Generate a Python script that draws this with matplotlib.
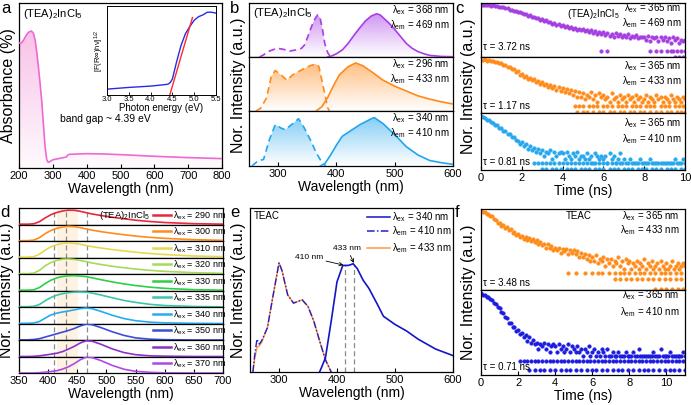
import numpy as np
import matplotlib
matplotlib.use("Agg")
import matplotlib.pyplot as plt
from matplotlib.patches import Polygon
from matplotlib.colors import to_rgb
from matplotlib.ticker import NullLocator

plt.rcParams['font.family'] = ['Liberation Sans', 'DejaVu Sans']
plt.rcParams['mathtext.fontset'] = 'custom'
plt.rcParams['mathtext.rm'] = 'Liberation Sans'
plt.rcParams['mathtext.it'] = 'Liberation Sans:italic'
plt.rcParams['axes.linewidth'] = 0.9

# ---------------- data ----------------
# a: absorbance + Tauc inset
abs_wl = [200, 205, 210, 215, 220, 225, 230, 237, 243, 248, 252, 257, 262, 267, 272, 277, 282, 286, 290, 300,
          320, 340, 345, 350, 400, 450, 500, 550, 600, 650, 700, 750, 800]
abs_val = [0.76, 0.755, 0.765, 0.78, 0.8, 0.815, 0.825, 0.83, 0.815, 0.77, 0.71, 0.62, 0.52, 0.41, 0.27, 0.13, 0.05,
           0.035, 0.037, 0.05, 0.058, 0.067, 0.08, 0.083, 0.087, 0.085, 0.081, 0.076, 0.071, 0.067, 0.063, 0.06, 0.057]
tauc_E = [3.0, 3.5, 4.0, 4.3, 4.4, 4.45, 4.5, 4.6, 4.7, 4.8, 4.9, 5.0, 5.1, 5.2, 5.3, 5.4, 5.5]
tauc_y = [0.066, 0.085, 0.1, 0.115, 0.122, 0.14, 0.18, 0.38, 0.56, 0.69, 0.77, 0.84, 0.88, 0.9, 0.93, 0.93, 0.92]
fit_E = [4.44, 4.96]
fit_y = [0.0, 0.87]

# b: PLE (dashed) / PL (solid) of (TEA)2InCl5
b_top_ple_wl = [268, 275, 280, 285, 290, 295, 300, 310, 320, 330, 340, 345, 350, 355, 360, 365, 368, 372, 376, 380, 385, 390]
b_top_ple = [0.0, 0.04, 0.08, 0.11, 0.13, 0.15, 0.16, 0.14, 0.11, 0.13, 0.16, 0.22, 0.35, 0.5, 0.64, 0.74, 0.78, 0.72,
             0.52, 0.25, 0.08, 0.0]
b_top_em_wl = [385, 390, 400, 410, 420, 430, 440, 450, 460, 469, 475, 480, 490, 500, 510, 520, 530, 540, 550, 560, 580, 600]
b_top_em = [0.0, 0.01, 0.06, 0.13, 0.25, 0.4, 0.54, 0.67, 0.76, 0.8, 0.78, 0.73, 0.63, 0.51, 0.38, 0.25, 0.16, 0.1,
            0.06, 0.03, 0.01, 0.005]
b_mid_ple_wl = [262, 270, 280, 288, 295, 305, 315, 325, 340, 355, 365, 370, 375, 380, 385, 388]
b_mid_ple = [0.0, 0.05, 0.24, 0.63, 0.75, 0.67, 0.57, 0.67, 0.76, 0.84, 0.87, 0.82, 0.57, 0.32, 0.06, 0.0]
b_mid_em_wl = [365, 375, 385, 395, 405, 420, 433, 445, 460, 480, 500, 520, 540, 560, 580, 600]
b_mid_em = [0.0, 0.08, 0.25, 0.47, 0.67, 0.82, 0.89, 0.84, 0.73, 0.57, 0.46, 0.37, 0.28, 0.22, 0.17, 0.13]
b_bot_ple_wl = [255, 265, 275, 285, 295, 305, 312, 325, 335, 345, 355, 365, 372, 378, 382]
b_bot_ple = [0.0, 0.09, 0.12, 0.48, 0.75, 0.69, 0.66, 0.77, 0.86, 0.69, 0.48, 0.25, 0.12, 0.03, 0.0]
b_bot_em_wl = [372, 380, 390, 400, 410, 420, 440, 460, 465, 480, 500, 520, 540, 560, 580, 600]
b_bot_em = [0.0, 0.04, 0.2, 0.38, 0.54, 0.61, 0.75, 0.86, 0.88, 0.77, 0.57, 0.35, 0.2, 0.1, 0.06, 0.03]
b_ex = [368, 296, 340]
b_em = [469, 433, 410]

# c: decay counts, (TEA)2InCl5, channels every 0.1 ns from 0 to 10 ns
c_purple = [395, 377, 388, 366, 381, 352, 364, 331, 338, 309,
            298, 291, 255, 252, 219, 214, 186, 189, 160, 163,
            150, 128, 131, 109, 112, 94, 98, 81, 84, 70,
            71, 61, 63, 52, 55, 44, 49, 39, 42, 33,
            37, 30, 33, 27, 30, 24, 28, 22, 25, 20,
            23, 18, 21, 16, 20, 15, 19, 14, 17, 13,
            16, 12, 15, 11, 14, 10, 15, 11, 13, 9,
            12, 9, 13, 8, 11, 10, 12, 8, 10, 9,
            10, 7, 11, 6, 9, 8, 10, 6, 9, 7,
            9, 6, 8, 5, 9, 7, 8, 5, 7, 6,
            7]
c_purple_2 = [5.9, 6.2, 8.3, 8.6, 8.8, 9.1, 9.3, 9.4, 9.6, 9.8, 10.0]
c_purple_1 = [9.5, 9.7, 9.9]
c_orange = [218, 206, 222, 197, 210, 183, 192, 171, 176, 158,
            156, 128, 127, 101, 102, 80, 82, 61, 65, 47,
            50, 39, 42, 31, 35, 26, 30, 22, 25, 18,
            22, 16, 19, 13, 17, 12, 15, 10, 13, 9,
            12, 8, 11, 7, 10, 6, 9, 5, 8, 5,
            7, 4, 6, 5, 8, 4, 6, 3, 7, 5,
            6, 4, 5, 3, 7, 4, 5, 3, 6, 4,
            5, 3, 6, 4, 5, 3, 6, 4, 5, 3,
            4, 6, 3, 5, 4, 3, 6, 4, 5, 3,
            5, 4, 3, 6, 4, 3, 5, 4, 3, 5,
            4]
c_orange_2 = [4.6, 4.8, 5.0, 5.3, 5.5, 5.7, 6.0, 6.2, 6.4, 6.7, 6.9, 7.1, 7.4, 7.6, 7.8, 8.1, 8.3, 8.5, 8.8,
              9.0, 9.2, 9.5, 9.7, 9.9]
c_orange_1 = [4.7, 5.0, 5.2, 5.5, 5.8, 6.0, 6.3, 6.5, 6.8, 7.0, 7.3, 7.5, 7.8, 8.0, 8.3, 8.6, 8.8, 9.1, 9.3,
              9.6, 9.8, 10.0]
c_blue = [218, 188, 176, 147, 140, 117, 109, 88, 82, 66,
          64, 49, 47, 34, 35, 25, 26, 19, 18, 13,
          15, 11, 13, 8, 10, 7, 9, 6, 8, 5,
          7, 4, 6, 5, 7, 3, 6, 4, 5, 6,
          5, 3, 6, 4, 3, 5, 4, 6, 3, 4,
          4, 3, 5, 3, 4, 2, 5, 4, 3, 4,
          3, 4, 2, 5, 3, 4, 2, 3, 5, 2,
          3, 2, 2, 3, 2, 2, 2, 2, 3, 2,
          2, 2, 2, 3, 2, 2, 2, 2, 2, 2,
          2, 2, 2, 2, 2, 3, 2, 2, 2, 3,
          2]
c_blue_2 = [2.6, 2.8, 3.0, 3.2, 3.4, 3.6, 3.8, 4.0, 4.2, 4.4, 4.6, 4.8, 5.0, 5.2, 5.4, 5.6, 5.8, 6.0, 6.2, 6.4,
            6.6, 6.8]
c_blue_1 = [3.0, 3.2, 3.5, 3.7, 3.9, 4.2, 4.4, 4.6, 4.9, 5.1, 5.3, 5.6, 5.8, 6.0, 6.3, 6.5, 6.7, 7.0, 7.2, 7.4,
            7.7, 7.9, 8.1, 8.4, 8.6, 8.8, 9.1, 9.3, 9.5, 9.8, 10.0]
c_em = [469, 433, 410]
c_tau = [3.72, 1.17, 0.81]

# d: PL under different excitation wavelengths
d_ex = [290, 300, 310, 320, 330, 335, 340, 350, 360, 370]
d_wl = [350, 365, 375, 385, 395, 405, 415, 425, 435, 445, 455, 465, 475, 490, 510, 530, 550, 575, 600, 650, 700]
d_290 = [0.02, 0.02, 0.04, 0.17, 0.4, 0.6, 0.73, 0.82, 0.87, 0.86, 0.8, 0.72, 0.64, 0.55, 0.44, 0.35, 0.26, 0.18, 0.12, 0.05, 0.02]
d_300 = [0.02, 0.02, 0.05, 0.2, 0.45, 0.64, 0.77, 0.85, 0.89, 0.87, 0.81, 0.73, 0.66, 0.57, 0.47, 0.38, 0.3, 0.22, 0.16, 0.08, 0.04]
d_310 = [0.02, 0.02, 0.05, 0.2, 0.45, 0.65, 0.78, 0.86, 0.88, 0.86, 0.8, 0.73, 0.66, 0.58, 0.48, 0.4, 0.32, 0.24, 0.18, 0.09, 0.05]
d_320 = [0.02, 0.02, 0.05, 0.22, 0.5, 0.7, 0.83, 0.9, 0.91, 0.88, 0.82, 0.75, 0.67, 0.58, 0.47, 0.38, 0.3, 0.22, 0.16, 0.08, 0.04]
d_330 = [0.02, 0.02, 0.04, 0.18, 0.42, 0.63, 0.77, 0.85, 0.89, 0.9, 0.88, 0.84, 0.77, 0.66, 0.52, 0.4, 0.3, 0.2, 0.13, 0.05, 0.02]
d_335 = [0.02, 0.02, 0.04, 0.15, 0.38, 0.58, 0.72, 0.81, 0.87, 0.9, 0.91, 0.9, 0.85, 0.73, 0.56, 0.4, 0.28, 0.16, 0.09, 0.03, 0.01]
d_340 = [0.01, 0.01, 0.03, 0.12, 0.33, 0.52, 0.63, 0.7, 0.76, 0.83, 0.9, 0.94, 0.9, 0.74, 0.5, 0.3, 0.17, 0.08, 0.04, 0.01, 0.0]
d_350 = [0.01, 0.01, 0.03, 0.08, 0.18, 0.28, 0.38, 0.48, 0.58, 0.7, 0.85, 0.96, 0.93, 0.76, 0.5, 0.28, 0.13, 0.05, 0.02, 0.0, 0.0]
d_360 = [0.0, 0.0, 0.01, 0.04, 0.09, 0.14, 0.2, 0.3, 0.45, 0.62, 0.82, 0.95, 0.93, 0.75, 0.46, 0.24, 0.11, 0.04, 0.02, 0.0, 0.0]
d_370 = [0.0, 0.0, 0.0, 0.02, 0.05, 0.09, 0.14, 0.24, 0.38, 0.57, 0.8, 0.96, 0.94, 0.76, 0.46, 0.23, 0.1, 0.04, 0.01, 0.0, 0.0]
d_peaks = [410, 431, 466]
d_band = [415, 452]

# e: TEAC
e_em_wl = [370, 380, 390, 400, 410, 420, 428, 435, 445, 455, 470, 480, 500, 520, 540, 550, 570, 600]
e_em = [0.0, 0.085, 0.31, 0.55, 0.65, 0.65, 0.66, 0.63, 0.56, 0.51, 0.41, 0.34, 0.29, 0.25, 0.2, 0.18, 0.14, 0.1]
e_ple_wl = [255, 258, 262, 266, 270, 280, 290, 300, 305, 315, 325, 340, 350, 360, 370, 380, 390]
e_ple410 = [0.0, 0.1, 0.2, 0.17, 0.19, 0.27, 0.47, 0.665, 0.62, 0.47, 0.42, 0.44, 0.4, 0.31, 0.19, 0.075, 0.0]
e_ple433 = [0.0, 0.08, 0.15, 0.16, 0.18, 0.27, 0.47, 0.665, 0.62, 0.47, 0.42, 0.44, 0.4, 0.31, 0.19, 0.075, 0.0]
e_marks = [413, 430]

# f: decay counts, TEAC, channels every 0.1 ns from 0 to 11 ns
f_orange = [212, 190, 186, 161, 164, 143, 140, 114, 112, 90,
            90, 75, 77, 63, 67, 55, 58, 46, 49, 40,
            43, 35, 38, 31, 35, 29, 32, 26, 30, 25,
            28, 22, 25, 20, 22, 17, 21, 16, 19, 14,
            17, 14, 16, 12, 15, 13, 15, 11, 14, 12,
            14, 11, 13, 9, 12, 9, 11, 8, 10, 7,
            9, 7, 10, 6, 8, 7, 9, 5, 8, 6,
            8, 5, 7, 6, 9, 5, 7, 4, 8, 6,
            7, 4, 6, 5, 7, 4, 6, 5, 8, 4,
            6, 5, 7, 4, 5, 6, 4, 7, 5, 4,
            6, 4, 5, 7, 4, 5, 6, 4, 5, 6,
            5]
f_orange_3 = [4.7, 5.1, 5.6, 6.0, 6.3, 6.5, 6.9, 7.2, 7.5, 7.7, 8.0, 8.3, 8.6, 8.8, 9.1, 9.4, 9.7, 9.9, 10.2,
              10.5, 10.8]
f_orange_2 = [7.2, 7.5, 7.8, 8.1, 8.4, 8.7, 9.0, 9.3, 9.6, 9.9, 10.2, 10.5, 10.8]
f_orange_1 = [9.4, 9.7, 10.0, 10.3, 10.6, 10.9]
f_blue = [330, 296, 288, 250, 246, 214, 197, 155, 146, 114,
          108, 80, 74, 54, 51, 36, 35, 26, 26, 19,
          20, 15, 17, 12, 14, 9, 12, 8, 10, 7,
          8, 5, 7, 6, 8, 5, 7, 4, 6, 7,
          6, 4, 7, 5, 6, 4, 5, 7, 4, 6,
          5, 4, 6, 4, 5, 3, 5, 4, 6, 3,
          4, 5, 3, 4, 3, 5, 4, 3, 5, 3,
          3, 4, 3, 3, 4, 3, 3, 3, 4, 3,
          3, 3, 4, 3, 3, 5, 3, 3, 3, 3,
          3, 3, 3, 4, 3, 3, 3, 5, 3, 3,
          3, 3, 4, 3, 3, 3, 3, 3, 3, 4,
          3]
f_blue_2 = [2.1, 2.3, 2.5, 2.7, 2.9, 3.1, 3.3, 3.5, 3.7, 3.9, 4.1, 4.3, 4.5, 4.7, 4.9, 5.1, 5.3, 5.5, 5.7, 5.9,
            6.1, 6.3, 6.5, 6.7, 6.9, 7.1, 7.3, 7.5, 7.7, 7.9, 8.1, 8.3, 8.5, 8.7, 8.9, 9.1, 9.3, 9.5, 9.7, 9.9,
            10.1, 10.3, 10.5, 10.7, 10.9]
f_blue_1 = [2.6, 2.9, 3.2, 3.4, 3.7, 4.0, 4.3, 4.6, 4.8, 5.1, 5.4, 5.7, 6.0, 6.2, 6.5, 6.8, 7.1, 7.4, 7.6, 7.9,
            8.2, 8.5, 8.8, 9.0, 9.3, 9.6, 9.9, 10.2, 10.4, 10.7, 11.0]
f_em = [433, 410]
f_tau = [3.48, 0.71]

# ---------------- helpers ----------------
W, H = 691, 405
FT, FL, FY, FX = 8, 10, 11.5, 7


def box(x0, y0, x1, y1):
    return [x0 / W, 1 - y1 / H, (x1 - x0) / W, (y1 - y0) / H]


def grad_fill(ax, x, y, color, a_top=0.6, a_bot=0.0):
    x = np.asarray(x, float)
    y = np.asarray(y, float)
    verts = np.column_stack([np.r_[x[0], x, x[-1]], np.r_[0, y, 0]])
    patch = Polygon(verts, closed=True, fc='none', ec='none')
    ax.add_patch(patch)
    g = np.zeros((64, 2, 4))
    g[..., :3] = to_rgb(color)
    g[..., 3] = np.linspace(a_top, a_bot, 64)[:, None]
    im = ax.imshow(g, extent=[x.min(), x.max(), 0, y.max()], aspect='auto', origin='upper',
                   zorder=1, interpolation='bilinear')
    im.set_clip_path(patch)


def style(ax, labels=True):
    ax.tick_params(axis='x', direction='in', length=3, width=0.8, labelsize=FT, pad=2)
    ax.set_yticks([])
    ax.yaxis.set_minor_locator(NullLocator())
    if not labels:
        ax.tick_params(axis='x', length=0, labelbottom=False)


def lam(ax, x, y, sub, val, size=FX, ha='right'):
    ax.text(x, y, 'λ$_{\\mathrm{%s}}$ = %d nm' % (sub, val), transform=ax.transAxes,
            ha=ha, va='center', fontsize=size)


def decay(ax, t, c, rows, color):
    kw = dict(ls='none', marker='o', ms=2.6, mfc=color, mec=color, mew=0.3, clip_on=True)
    ax.plot(t, c, **kw)
    for lvl, tt in rows:
        ax.plot(tt, [lvl] * len(tt), **kw)
    ax.set_yscale('log')


fig = plt.figure(figsize=(W / 100, H / 100), dpi=100)

# ---------------- a ----------------
ax = fig.add_axes(box(19, 3, 222, 168))
grad_fill(ax, abs_wl, abs_val, '#f58fd6', 0.55, 0.05)
ax.plot(abs_wl, abs_val, color='#ee6ad2', lw=1.2, zorder=3)
ax.set_xlim(200, 800)
ax.set_ylim(0, 1)
ax.set_xticks(range(200, 801, 100))
style(ax)
ax.set_xlabel('Wavelength (nm)', fontsize=FL, labelpad=1)
ax.set_ylabel('Absorbance (%)', fontsize=FY, labelpad=2)
ax.text(0.02, 0.975, '(TEA)$_2$InCl$_5$', transform=ax.transAxes, ha='left', va='top', fontsize=8)
ax.text(321, 0.295, 'band gap ~ 4.39 eV', ha='left', va='center', fontsize=7.5)

ai = fig.add_axes(box(107, 6, 216, 95))
ai.plot(tauc_E, tauc_y, color='#2a2ae6', lw=1.0)
ai.plot(fit_E, fit_y, color='#ff2a2a', lw=1.0)
ai.set_xlim(3.0, 5.5)
ai.set_ylim(0, 1)
ai.set_xticks([3.0, 3.5, 4.0, 4.5, 5.0, 5.5])
ai.tick_params(axis='x', direction='in', length=2, width=0.6, labelsize=5.5, pad=1)
ai.set_yticks([])
for s in ai.spines.values():
    s.set_linewidth(0.7)
ai.set_xlabel('Photon energy (eV)', fontsize=7, labelpad=0)
ai.set_ylabel('[F(R∞)hν]$^{1/2}$', fontsize=5.5, labelpad=1)

# ---------------- b ----------------
b_rows = [(3, 57, b_top_ple_wl, b_top_ple, b_top_em_wl, b_top_em, '#a93ee6'),
          (57, 111, b_mid_ple_wl, b_mid_ple, b_mid_em_wl, b_mid_em, '#ff8a1c'),
          (111, 166, b_bot_ple_wl, b_bot_ple, b_bot_em_wl, b_bot_em, '#23a6ee')]
for i, (y0, y1, pw, pv, ew, ev, col) in enumerate(b_rows):
    ax = fig.add_axes(box(249, y0, 453, y1))
    grad_fill(ax, pw, pv, col, 0.55, 0.0)
    grad_fill(ax, ew, ev, col, 0.55, 0.0)
    ax.plot(pw, pv, color=col, lw=1.2, ls=(0, (4, 2.5)), zorder=3)
    ax.plot(ew, ev, color=col, lw=1.2, zorder=3)
    ax.set_xlim(250, 600)
    ax.set_ylim(0, 1)
    ax.set_xticks([300, 400, 500, 600])
    style(ax, labels=(i == 2))
    lam(ax, 0.985, 0.87, 'ex', b_ex[i])
    lam(ax, 0.985, 0.6, 'em', b_em[i])
    if i == 0:
        ax.text(0.02, 0.95, '(TEA)$_2$InCl$_5$', transform=ax.transAxes, ha='left', va='top', fontsize=8)
    if i == 2:
        ax.set_xlabel('Wavelength (nm)', fontsize=FL, labelpad=1)
fig.text(238 / W, 1 - 85 / H, 'Nor. Intensity (a.u.)', rotation=90, ha='center', va='center', fontsize=FY)

# ---------------- c ----------------
c_time = np.round(np.arange(0, 10.001, 0.1), 1)
c_rows = [(3, 57, c_purple, [(2, c_purple_2), (1, c_purple_1)], '#a63fe2', 470),
          (57, 113, c_orange, [(2, c_orange_2), (1, c_orange_1)], '#ff8c1a', 284),
          (113, 170, c_blue, [(2, c_blue_2), (1, c_blue_1)], '#25a8ee', 284)]
for i, (y0, y1, cc, rows, col, top) in enumerate(c_rows):
    ax = fig.add_axes(box(481, y0, 685, y1))
    decay(ax, c_time, cc, rows, col)
    ax.set_xlim(0, 10)
    ax.set_ylim(0.95, top)
    ax.set_xticks(range(0, 11, 2))
    style(ax, labels=(i == 2))
    lam(ax, 0.985, [0.9, 0.84, 0.82][i], 'ex', 365)
    lam(ax, 0.985, [0.63, 0.57, 0.54][i], 'em', c_em[i])
    ax.text(0.01, [0.18, 0.13, 0.14][i], 'τ = %.2f ns' % c_tau[i], transform=ax.transAxes,
            ha='left', va='center', fontsize=FX)
    if i == 0:
        ax.text(0.55, 0.8, '(TEA)$_2$InCl$_5$', transform=ax.transAxes, ha='center', va='center', fontsize=FX)
    if i == 2:
        ax.set_xlabel('Time (ns)', fontsize=FL, labelpad=1)
fig.text(468 / W, 1 - 86 / H, 'Nor. Intensity (a.u.)', rotation=90, ha='center', va='center', fontsize=FY)

# ---------------- d ----------------
d_curves = [d_290, d_300, d_310, d_320, d_330, d_335, d_340, d_350, d_360, d_370]
d_cols = ['#e8283c', '#ff8c1a', '#e6d84e', '#a6da58', '#2ecf48', '#3cc6a6', '#28aaf0', '#3a4ed8', '#8e30c8',
          '#b048e8']
step = (373 - 208) / 10
for i, (yy, col) in enumerate(zip(d_curves, d_cols)):
    ax = fig.add_axes(box(19, 208 + i * step, 223, 208 + (i + 1) * step))
    ax.axvspan(d_band[0], d_band[1], color='#fef3e3', lw=0, zorder=0)
    for p in d_peaks:
        ax.axvline(p, color='#8a8a8a', lw=0.9, ls=(0, (4, 2.5)), zorder=1)
    ax.plot(d_wl, yy, color=col, lw=1.2, zorder=3)
    ax.set_xlim(350, 700)
    ax.set_ylim(0, 1)
    ax.set_xticks(range(350, 701, 50))
    style(ax, labels=(i == 9))
    ax.plot([0.655, 0.745], [0.6, 0.6], transform=ax.transAxes, color=col, lw=1.8, zorder=4)
    lam(ax, 0.755, 0.55, 'ex', d_ex[i], size=6.5, ha='left')
    if i == 0:
        ax.text(0.645, 0.55, '(TEA)$_2$InCl$_5$', transform=ax.transAxes, ha='right', va='center', fontsize=6.8)
    if i == 9:
        ax.set_xlabel('Wavelength (nm)', fontsize=FL, labelpad=1)
fig.text(7 / W, 1 - 290 / H, 'Nor. Intensity (a.u.)', rotation=90, ha='center', va='center', fontsize=FY)

# ---------------- e ----------------
ax = fig.add_axes(box(250, 208, 453, 372))
for m in e_marks:
    ax.plot([m, m], [0, 0.655], color='#8a8a8a', lw=0.9, ls=(0, (4, 2.5)))
ax.plot(e_ple_wl, e_ple433, color='#ff9a3c', lw=1.1)
ax.plot(e_ple_wl, e_ple410, color='#2020d0', lw=1.0, ls=(0, (5, 1.5, 1, 1.5)))
ax.plot(e_em_wl, e_em, color='#1414c8', lw=1.2)
ax.set_xlim(250, 600)
ax.set_ylim(0, 1)
ax.set_xticks([300, 400, 500, 600])
style(ax)
ax.set_xlabel('Wavelength (nm)', fontsize=FL, labelpad=1)
ax.set_ylabel('Nor. Intensity (a.u.)', fontsize=FY, labelpad=3)
ax.text(0.02, 0.95, 'TEAC', transform=ax.transAxes, ha='left', va='center', fontsize=FX)
leg = [('-', '#1414c8', 'ex', 340), ((0, (5, 1.5, 1, 1.5)), '#2020d0', 'em', 410), ('-', '#ff9a3c', 'em', 433)]
for k, (ls, col, sub, val) in enumerate(leg):
    yy = [0.945, 0.86, 0.756][k]
    ax.plot([0.576, 0.69], [yy, yy], transform=ax.transAxes, color=col, lw=1.1, ls=ls)
    lam(ax, 0.7, yy, sub, val, ha='left')
ax.annotate('410 nm', xy=(411, 0.652), xytext=(352, 0.70), fontsize=6, ha='center', va='center',
            arrowprops=dict(arrowstyle='->', lw=0.6, color='black', shrinkA=0, shrinkB=0))
ax.annotate('433 nm', xy=(429, 0.665), xytext=(417, 0.756), fontsize=6, ha='center', va='center',
            arrowprops=dict(arrowstyle='->', lw=0.6, color='black', shrinkA=1, shrinkB=0))

# ---------------- f ----------------
f_time = np.round(np.arange(0, 11.001, 0.1), 1)
f_rows = [(209, 290, f_orange, [(3, f_orange_3), (2, f_orange_2), (1, f_orange_1)], '#ff8c1a', (0.95, 232)),
          (290, 375, f_blue, [(2, f_blue_2), (1, f_blue_1)], '#1c1ce0', (0.7, 421))]
for i, (y0, y1, cc, rows, col, yl) in enumerate(f_rows):
    ax = fig.add_axes(box(481, y0, 685, y1))
    decay(ax, f_time, cc, rows, col)
    ax.set_xlim(0, 11)
    ax.set_ylim(*yl)
    ax.set_xticks(range(0, 11, 2))
    style(ax, labels=(i == 1))
    lam(ax, 0.975, [0.91, 0.94][i], 'ex', 365)
    lam(ax, 0.975, [0.74, 0.74][i], 'em', f_em[i])
    ax.text(0.01, 0.09, 'τ = %.2f ns' % f_tau[i], transform=ax.transAxes, ha='left', va='center', fontsize=FX)
    if i == 0:
        ax.text(0.48, 0.91, 'TEAC', transform=ax.transAxes, ha='center', va='center', fontsize=FX)
    if i == 1:
        ax.set_xlabel('Time (ns)', fontsize=FL, labelpad=1)
fig.text(468 / W, 1 - 292 / H, 'Nor. Intensity (a.u.)', rotation=90, ha='center', va='center', fontsize=FY)

# panel letters
for lab, x, y in [('a', 1, 1), ('b', 230, 1), ('c', 455, 1), ('d', 0, 205), ('e', 230, 205), ('f', 455, 205)]:
    fig.text(x / W, 1 - y / H, lab, ha='left', va='top', fontsize=12)

fig.savefig('out.png', dpi=100)
